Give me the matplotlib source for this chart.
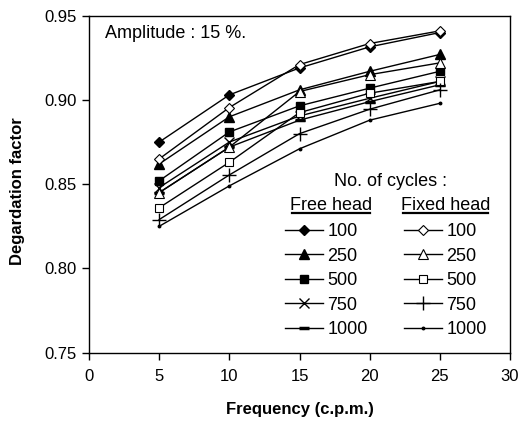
import matplotlib
matplotlib.use("Agg")
import matplotlib.pyplot as plt
from matplotlib.lines import Line2D

plt.rcParams['font.family'] = ['Liberation Sans', 'DejaVu Sans']

freq = [5, 10, 15, 20, 25]

free_100 = [0.875, 0.903, 0.919, 0.9315, 0.940]
free_250 = [0.862, 0.890, 0.906, 0.917, 0.927]
free_500 = [0.852, 0.881, 0.8965, 0.907, 0.917]
free_750 = [0.848, 0.875, 0.8905, 0.901, 0.911]
free_1000 = [0.845, 0.872, 0.888, 0.899, 0.909]

fixed_100 = [0.865, 0.8955, 0.921, 0.9335, 0.941]
fixed_250 = [0.845, 0.872, 0.905, 0.915, 0.922]
fixed_500 = [0.836, 0.863, 0.8925, 0.904, 0.911]
fixed_750 = [0.829, 0.8555, 0.880, 0.8945, 0.906]
fixed_1000 = [0.825, 0.849, 0.871, 0.888, 0.898]

cycle_labels = ['100', '250', '500', '750', '1000']
x_ticks = [0, 5, 10, 15, 20, 25, 30]
y_ticks = [0.75, 0.80, 0.85, 0.90, 0.95]

W, H = 522, 421
fig = plt.figure(figsize=(W/100, H/100), dpi=100)
ax = fig.add_axes([89/W, 1-352.7/H, (510-89)/W, (352.7-15.7)/H])

free_series = [free_100, free_250, free_500, free_750, free_1000]
fixed_series = [fixed_100, fixed_250, fixed_500, fixed_750, fixed_1000]

free_styles = [
    dict(marker='D', markersize=5.5, mfc='black', mec='black'),
    dict(marker='^', markersize=6.5, mfc='black', mec='black'),
    dict(marker='s', markersize=6, mfc='black', mec='black'),
    dict(marker='x', markersize=6.5, mfc='black', mec='black', mew=1.0),
    dict(marker='_', markersize=6.5, mfc='black', mec='black', mew=2.5),
]
fixed_styles = [
    dict(marker='D', markersize=5.5, mfc='white', mec='black', mew=0.8),
    dict(marker='^', markersize=6.5, mfc='white', mec='black', mew=0.8),
    dict(marker='s', markersize=6, mfc='white', mec='black', mew=0.8),
    dict(marker='+', markersize=10, mfc='black', mec='black', mew=1.0),
    dict(marker='o', markersize=1.8, mfc='black', mec='black'),
]

handles = []
for vals, st in zip(free_series, free_styles):
    h, = ax.plot(freq, vals, color='black', lw=1.0, **st)
    handles.append(h)
for vals, st in zip(fixed_series, fixed_styles):
    h, = ax.plot(freq, vals, color='black', lw=1.0, **st)
    handles.append(h)

ax.set_xlim(0, 30)
ax.set_ylim(0.75, 0.95)
ax.set_xticks(x_ticks)
ax.set_yticks(y_ticks)
ax.set_yticklabels([f"{v:.2f}" for v in y_ticks])
ax.tick_params(direction='out', length=5, width=1, labelsize=12)
ax.tick_params(axis='x', pad=7)
ax.tick_params(axis='y', pad=4)
for s in ax.spines.values():
    s.set_linewidth(1.0)

ax.set_xlabel('Frequency (c.p.m.)', fontsize=12, fontweight='bold', labelpad=13)
ax.set_ylabel('Degardation factor', fontsize=12, fontweight='bold')
ax.yaxis.set_label_coords((25.5-89)/421, 1-(191-15.7)/337)


def fx(px):
    return px/W


def fy(py):
    return 1 - py/H


fig.text(fx(105), fy(33), 'Amplitude : 15 %.', fontsize=13, va='center', ha='left')

leg = ax.legend(handles, cycle_labels + cycle_labels, ncol=2, frameon=False,
                fontsize=13, handlelength=2.1, handletextpad=0.25,
                columnspacing=2.0, labelspacing=0.42, borderpad=0,
                loc='upper left', bbox_to_anchor=(fx(276), fy(214)),
                bbox_transform=fig.transFigure)

fig.text(fx(390), fy(182), 'No. of cycles :', fontsize=13, ha='center', va='center')
fig.text(fx(331), fy(205), 'Free head', fontsize=13, ha='center', va='center')
fig.text(fx(445.5), fy(205), 'Fixed head', fontsize=13, ha='center', va='center')
fig.add_artist(Line2D([fx(292), fx(370)], [fy(213), fy(213)], color='black', lw=1.6))
fig.add_artist(Line2D([fx(403), fx(488)], [fy(213), fy(213)], color='black', lw=1.6))

fig.savefig('out.png', dpi=100)
